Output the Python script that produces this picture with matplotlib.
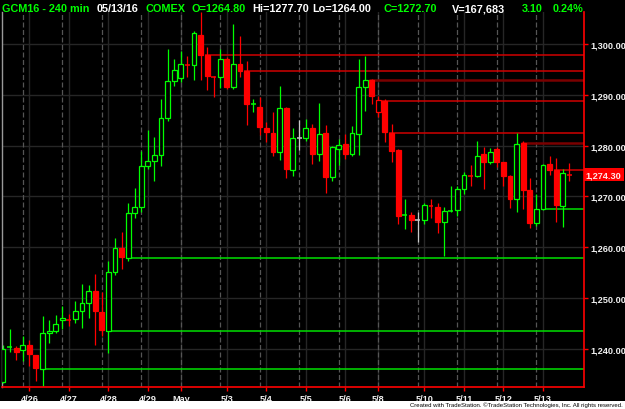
import matplotlib
matplotlib.use('Agg')
import matplotlib.pyplot as plt
from matplotlib.patches import Rectangle
from matplotlib.ticker import FuncFormatter
import matplotlib.transforms as mtransforms

plt.rcParams['font.family'] = ['Liberation Sans', 'DejaVu Sans']

# ---------------- data (240-min bars, GCM16) ----------------
opens = [1233.3, 1240.1, 1240.1, 1239.8, 1240.7, 1238.7, 1236.0, 1243.1, 1243.4, 1245.6,
         1245.8, 1245.8, 1247.4, 1249.0, 1251.3, 1247.2, 1243.4, 1255.0, 1259.8, 1257.8,
         1266.7, 1268.0, 1276.0, 1276.9, 1278.1, 1285.4, 1292.8, 1293.3, 1296.1, 1295.9,
         1301.8, 1297.8, 1293.7, 1293.5, 1297.1, 1291.6, 1296.1, 1294.7, 1288.2, 1287.7,
         1283.4, 1282.6, 1278.7, 1287.4, 1275.3, 1281.5, 1281.5, 1283.4, 1278.3, 1282.6,
         1273.8, 1279.3, 1280.3, 1278.3, 1282.4, 1291.5, 1293.0, 1286.7, 1288.8, 1282.6,
         1279.2, 1266.2, 1266.4, 1265.4, 1265.4, 1268.3, 1268.0, 1264.9, 1267.1, 1267.3,
         1271.4, 1274.2, 1274.1, 1278.3, 1276.7, 1279.3, 1276.7, 1274.1, 1269.5, 1280.5,
         1271.3, 1264.7, 1267.5, 1276.4, 1275.2, 1268.2, 1274.4]
highs = [1240.6, 1243.8, 1240.4, 1242.4, 1241.6, 1238.8, 1246.5, 1245.6, 1246.7, 1248.3,
         1246.9, 1249.4, 1252.8, 1252.5, 1254.6, 1251.2, 1257.3, 1261.8, 1262.9, 1268.7,
         1271.7, 1279.0, 1283.1, 1281.7, 1289.2, 1299.1, 1297.1, 1298.7, 1297.6, 1302.6,
         1306.3, 1299.4, 1293.8, 1299.1, 1297.5, 1304.1, 1301.7, 1296.8, 1289.3, 1289.6,
         1284.7, 1286.7, 1291.8, 1287.6, 1283.5, 1285.1, 1285.3, 1284.3, 1288.4, 1284.1,
         1280.0, 1281.3, 1282.4, 1283.9, 1297.1, 1297.7, 1293.2, 1289.9, 1289.3, 1284.3,
         1279.3, 1269.5, 1266.9, 1266.9, 1268.7, 1269.5, 1268.7, 1267.9, 1272.1, 1272.1,
         1274.8, 1276.2, 1280.9, 1279.7, 1279.5, 1279.7, 1276.8, 1274.2, 1282.5, 1280.9,
         1273.6, 1270.5, 1276.4, 1277.9, 1277.5, 1275.4, 1276.6]
lows = [1233.2, 1239.4, 1237.8, 1237.6, 1236.5, 1233.6, 1232.7, 1241.0, 1243.0, 1243.8,
        1244.5, 1245.0, 1244.1, 1246.1, 1240.7, 1242.4, 1239.1, 1254.5, 1255.7, 1257.3,
        1265.7, 1267.0, 1275.5, 1273.1, 1275.9, 1284.9, 1291.8, 1292.5, 1293.5, 1293.0,
        1293.0, 1291.0, 1289.7, 1291.4, 1291.2, 1291.2, 1293.5, 1284.1, 1286.7, 1282.1,
        1280.7, 1278.0, 1277.2, 1273.7, 1274.1, 1279.2, 1281.0, 1276.4, 1277.0, 1270.7,
        1273.1, 1276.1, 1277.4, 1277.9, 1278.1, 1286.8, 1288.2, 1285.6, 1280.8, 1276.7,
        1264.6, 1263.6, 1262.9, 1261.1, 1264.6, 1265.7, 1262.8, 1258.2, 1266.9, 1266.2,
        1270.5, 1272.1, 1273.9, 1271.5, 1276.3, 1275.8, 1272.1, 1267.7, 1266.9, 1267.5,
        1263.7, 1264.1, 1267.4, 1274.2, 1265.0, 1263.9, 1273.1]
closes = [1240.0, 1240.2, 1239.4, 1240.7, 1238.9, 1236.1, 1243.0, 1243.5, 1244.8, 1246.0,
          1245.7, 1247.4, 1249.0, 1251.3, 1247.3, 1243.6, 1255.1, 1259.8, 1258.0, 1266.7,
          1268.0, 1276.0, 1276.9, 1278.1, 1285.5, 1292.8, 1294.9, 1296.1, 1296.0, 1302.2,
          1297.9, 1293.8, 1293.6, 1297.1, 1291.6, 1296.1, 1294.8, 1288.2, 1288.3, 1283.6,
          1282.8, 1278.8, 1287.5, 1275.5, 1281.5, 1281.5, 1283.4, 1278.4, 1282.4, 1273.9,
          1279.7, 1280.2, 1278.4, 1282.6, 1291.5, 1293.0, 1289.9, 1289.0, 1282.8, 1279.0,
          1266.2, 1266.4, 1265.4, 1265.4, 1268.3, 1268.2, 1264.9, 1267.1, 1267.2, 1271.5,
          1274.2, 1274.1, 1278.0, 1276.8, 1278.7, 1276.7, 1274.1, 1269.5, 1280.3, 1271.3,
          1264.8, 1267.5, 1276.2, 1275.2, 1268.3, 1274.6, 1274.3]

# bars whose open starts a support (green) / resistance (red) line
support_bars = [6, 16, 19, 82]
resist_bars = [31, 37, 58, 59, 84]
resist_dark_bars = [56, 79]

tick_idx = [4, 10, 16, 22, 27, 34, 40, 46, 52, 57, 64, 70, 76, 82]
tick_labels = ['4/26', '4/27', '4/28', '4/29', 'May', '5/3', '5/4', '5/5', '5/6',
               '5/8', '5/10', '5/11', '5/12', '5/13']
session_idx = [3, 9, 15, 21, 27, 33, 39, 45, 51, 57, 63, 69, 75, 81]
price_ticks = [1240, 1250, 1260, 1270, 1280, 1290, 1300]

title_parts = [("GCM16 - 240 min", 2, '#00FF00'), ("05/13/16", 97, '#FFFFFF'),
               ("COMEX", 145, '#00FF00'), ("O=1264.80", 191, '#00FF00'),
               ("Hi=1277.70", 252, '#FFFFFF'), ("Lo=1264.00", 312, '#FFFFFF'),
               ("C=1272.70", 383, '#00FF00'), ("V=167,683", 452, '#FFFFFF'),
               ("3.10", 522, '#00FF00'), ("0.24%", 553, '#00FF00')]

# ---------------- figure ----------------
W, H = 625, 410
GREEN = '#00FF00'
RED = '#FF0000'
GRAY = '#C8C8C8'

fig = plt.figure(figsize=(W / 100, H / 100), dpi=100, facecolor='black')
fig.patches.append(Rectangle((0, 0), 1, 8.5 / H, transform=fig.transFigure,
                             facecolor='white', edgecolor='none', zorder=0))

ax_l, ax_r, ax_t, ax_b = 2, 583.5, 13, 388.3
ax = fig.add_axes([ax_l / W, 1 - ax_b / H, (ax_r - ax_l) / W, (ax_b - ax_t) / H])
ax.set_facecolor('black')

step = 6.585
x_lo = (ax_l - 3) / step
x_hi = (ax_r - 3) / step
ax.set_xlim(x_lo, x_hi)
ax.set_ylim(1232.35, 1306.37)

# grid
for p in price_ticks:
    ax.axhline(p, color='#262626', lw=1.0, zorder=0)
for t in tick_idx:
    ax.axvline(t, color='#262626', lw=1.0, zorder=0)
for s in session_idx:
    ax.axvline(s, color='#555555', lw=0.9, ls=(0, (4, 2)), zorder=0.5)

bw = 0.74
# level lines
for i in support_bars:
    ax.hlines(opens[i], i - bw / 2, x_hi, color='#00E000', lw=1.1, zorder=1)
for i in resist_bars:
    ax.hlines(opens[i], i - bw / 2, x_hi, color='#D00000', lw=1.1, zorder=1)
for i in resist_dark_bars:
    ax.hlines(opens[i], i - bw / 2, x_hi, color='#7A0000', lw=1.8, zorder=1)

# candles
prev = None
for i, (o, h, l, c) in enumerate(zip(opens, highs, lows, closes)):
    if prev is None or c > prev:
        col = GREEN
    elif c < prev:
        col = RED
    else:
        col = GRAY
    prev = c
    ax.vlines(i, l, h, color=col, lw=0.9, zorder=2)
    if abs(c - o) < 0.25:
        ax.hlines(c, i - bw / 2, i + bw / 2, color=col, lw=1.1, zorder=3)
    else:
        face = 'black' if c > o else col
        ax.add_patch(Rectangle((i - bw / 2, min(o, c)), bw, abs(c - o),
                               facecolor=face, edgecolor=col, lw=0.9, zorder=3))

# spines
ax.spines['top'].set_visible(False)
ax.spines['left'].set_color('#9A9A9A')
ax.spines['left'].set_linewidth(1.0)
for side in ('right', 'bottom'):
    ax.spines[side].set_color(RED)
    ax.spines[side].set_linewidth(1.2)

# axes ticks
ax.yaxis.tick_right()
ax.set_yticks(price_ticks)
ax.yaxis.set_major_formatter(FuncFormatter(lambda v, pos: f"{v:,.2f}"))
ax.set_xticks(tick_idx)
ax.set_xticklabels(tick_labels)
ax.tick_params(axis='both', colors=RED, labelcolor='#F0F0F0', length=3, width=1,
               labelsize=6.6, pad=2)
for lbl in ax.get_xticklabels() + ax.get_yticklabels():
    lbl.set_fontweight('bold')

# last price box
trans = mtransforms.blended_transform_factory(ax.transAxes, ax.transData)
ax.text(1.004, closes[-1], f"{closes[-1]:,.2f}", transform=trans, ha='left', va='center',
        fontsize=6.6, fontweight='bold', color='#FFE6E6',
        bbox=dict(boxstyle='square,pad=0.25', facecolor=RED, edgecolor='none'),
        clip_on=False, zorder=10)

# title
for txt, xp, col in title_parts:
    fig.text(xp / W, 1 - 12.3 / H, txt, color=col, fontsize=7.8, fontweight='bold',
             ha='left', va='baseline')

fig.text(623 / W, 1.5 / H, "Created with TradeStation. \u00a9TradeStation Technologies, Inc. All rights reserved.",
         color='black', fontsize=4.3, ha='right', va='bottom')

fig.savefig('out.png', dpi=100, facecolor='black')
